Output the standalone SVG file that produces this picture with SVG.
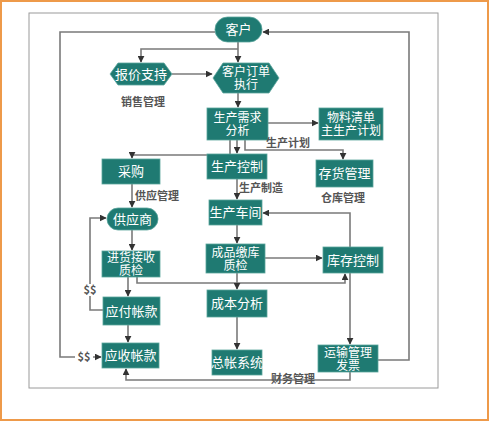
<svg xmlns="http://www.w3.org/2000/svg" width="489" height="421" viewBox="0 0 489 421">
<defs>
<marker id="ah" viewBox="0 0 10 10" refX="9" refY="5" markerWidth="7" markerHeight="7" markerUnits="userSpaceOnUse" orient="auto">
<path d="M0,0 L10,5 L0,10 z" fill="#333"/>
</marker>
<style>
.n{fill:#1f7a72;stroke:#5aa59c;stroke-width:0.8}
.t{fill:#fff;font-family:"Noto Sans CJK SC","Noto Sans",sans-serif;font-size:13px;text-anchor:middle}
.t2{fill:#fff;font-family:"Liberation Sans","Noto Sans CJK SC",sans-serif;font-size:12px;text-anchor:middle}
.l{fill:#555;font-family:"Noto Sans CJK SC","Noto Sans",serif;font-size:11px;font-weight:bold;text-anchor:middle}
.c{fill:none;stroke:#7a7a7a;stroke-width:1.6}
.a{marker-end:url(#ah)}
</style>
</defs>
<rect x="0" y="0" width="489" height="421" fill="#fff"/>
<rect x="1" y="1" width="487" height="419" fill="none" stroke="#ee9a4a" stroke-width="2"/>
<rect x="29" y="13" width="409" height="375" fill="none" stroke="#9a9a9a" stroke-width="1"/>

<g id="connectors">
<path class="c a" d="M215,32 H60 V357 H101"/>
<path class="c a" d="M378,360 H409 V32 H263"/>
<path class="c a" d="M238,42 V62"/>
<path class="c a" d="M238,49 H141 V62"/>
<path class="c a" d="M172,74 H212"/>
<path class="c a" d="M238,93 V107"/>
<path class="c a" d="M268,123 H318"/>
<path class="c a" d="M230,140 V155 H132 V158"/>
<path class="c a" d="M237,140 V153"/>
<path class="c a" d="M245,140 V150 H343 V159"/>
<path class="c a" d="M132,184 V207"/>
<path class="c a" d="M103,310 H90 V218 H106"/>
<path class="c a" d="M132,230 V250"/>
<path class="c a" d="M128,277 V296"/>
<path class="c a" d="M137,277 V283 H345 V274"/>
<path class="c a" d="M128,325 V342"/>
<path class="c a" d="M237,179 V199"/>
<path class="c a" d="M350,247 V213 H263"/>
<path class="c a" d="M237,225 V243"/>
<path class="c a" d="M265,258 H322"/>
<path class="c a" d="M237,273 V289"/>
<path class="c a" d="M237,317 V349"/>
<path class="c a" d="M350,273 V344"/>
<path class="c a" d="M350,372 V380 H126 V369"/>
<rect x="82" y="284" width="16" height="12" fill="#fff"/>
<text x="90" y="294" class="l">$$</text>
<rect x="75" y="351" width="18" height="12" fill="#fff"/>
<text x="84" y="361" class="l">$$</text>
</g>

<g id="kehu"><rect class="n" x="215" y="17" width="47" height="25" rx="12.5"/><text class="t" x="238.5" y="34">客户</text></g>
<g id="baojia"><polygon class="n" points="110,74 118,63 164,63 172,74 164,85 118,85"/><text class="t" x="141" y="79">报价支持</text></g>
<g id="dingdan"><polygon class="n" points="213,78 223,63 269,63 279,78 269,93 223,93"/><text class="t2" x="246" y="76"><tspan x="246">客户订单</tspan><tspan x="246" dy="13">执行</tspan></text></g>
<g id="xuqiu"><rect class="n" x="207" y="108" width="61" height="32"/><text class="t2" x="237.5" y="122"><tspan x="237.5">生产需求</tspan><tspan x="237.5" dy="13">分析</tspan></text></g>
<g id="wuliao"><rect class="n" x="319" y="108" width="64" height="32"/><text class="t2" x="351" y="122"><tspan x="351">物料清单</tspan><tspan x="351" dy="13">主生产计划</tspan></text></g>
<g id="caigou"><rect class="n" x="102" y="159" width="58" height="25"/><text class="t" x="131" y="176">采购</text></g>
<g id="kongzhi"><rect class="n" x="207" y="154" width="60" height="25"/><text class="t" x="237" y="171">生产控制</text></g>
<g id="cunhuo"><rect class="n" x="316" y="160" width="57" height="27"/><text class="t" x="344.5" y="178">存货管理</text></g>
<g id="gongying"><rect class="n" x="107" y="208" width="51" height="22" rx="11"/><text class="t" x="132.5" y="224">供应商</text></g>
<g id="chejian"><rect class="n" x="209" y="200" width="53" height="25"/><text class="t" x="235.5" y="217">生产车间</text></g>
<g id="jinhuo"><rect class="n" x="102" y="251" width="58" height="26"/><text class="t2" x="131" y="262"><tspan x="131">进货接收</tspan><tspan x="131" dy="13">质检</tspan></text></g>
<g id="chengpin"><rect class="n" x="206" y="244" width="59" height="29"/><text class="t2" x="235.5" y="257"><tspan x="235.5">成品缴库</tspan><tspan x="235.5" dy="13">质检</tspan></text></g>
<g id="kucun"><rect class="n" x="323" y="247" width="60" height="26"/><text class="t" x="353" y="265">库存控制</text></g>
<g id="yingfu"><rect class="n" x="103" y="297" width="57" height="28"/><text class="t" x="131.5" y="316">应付帐款</text></g>
<g id="chengben"><rect class="n" x="207" y="290" width="60" height="27"/><text class="t" x="237" y="308">成本分析</text></g>
<g id="yingshou"><rect class="n" x="102" y="343" width="57" height="25"/><text class="t" x="130.5" y="360">应收帐款</text></g>
<g id="zongzhang"><rect class="n" x="212" y="350" width="50" height="25"/><text class="t" x="237" y="367">总帐系统</text></g>
<g id="yunshu"><rect class="n" x="318" y="345" width="60" height="27"/><text class="t2" x="348" y="357"><tspan x="348">运输管理</tspan><tspan x="348" dy="13">发票</tspan></text></g>

<g id="labels">
<text class="l" x="143" y="106">销售管理</text>
<text class="l" x="288" y="147">生产计划</text>
<text class="l" x="157" y="200">供应管理</text>
<text class="l" x="261" y="192">生产制造</text>
<text class="l" x="343" y="202">仓库管理</text>
<text class="l" x="293" y="383">财务管理</text>
</g>
</svg>
